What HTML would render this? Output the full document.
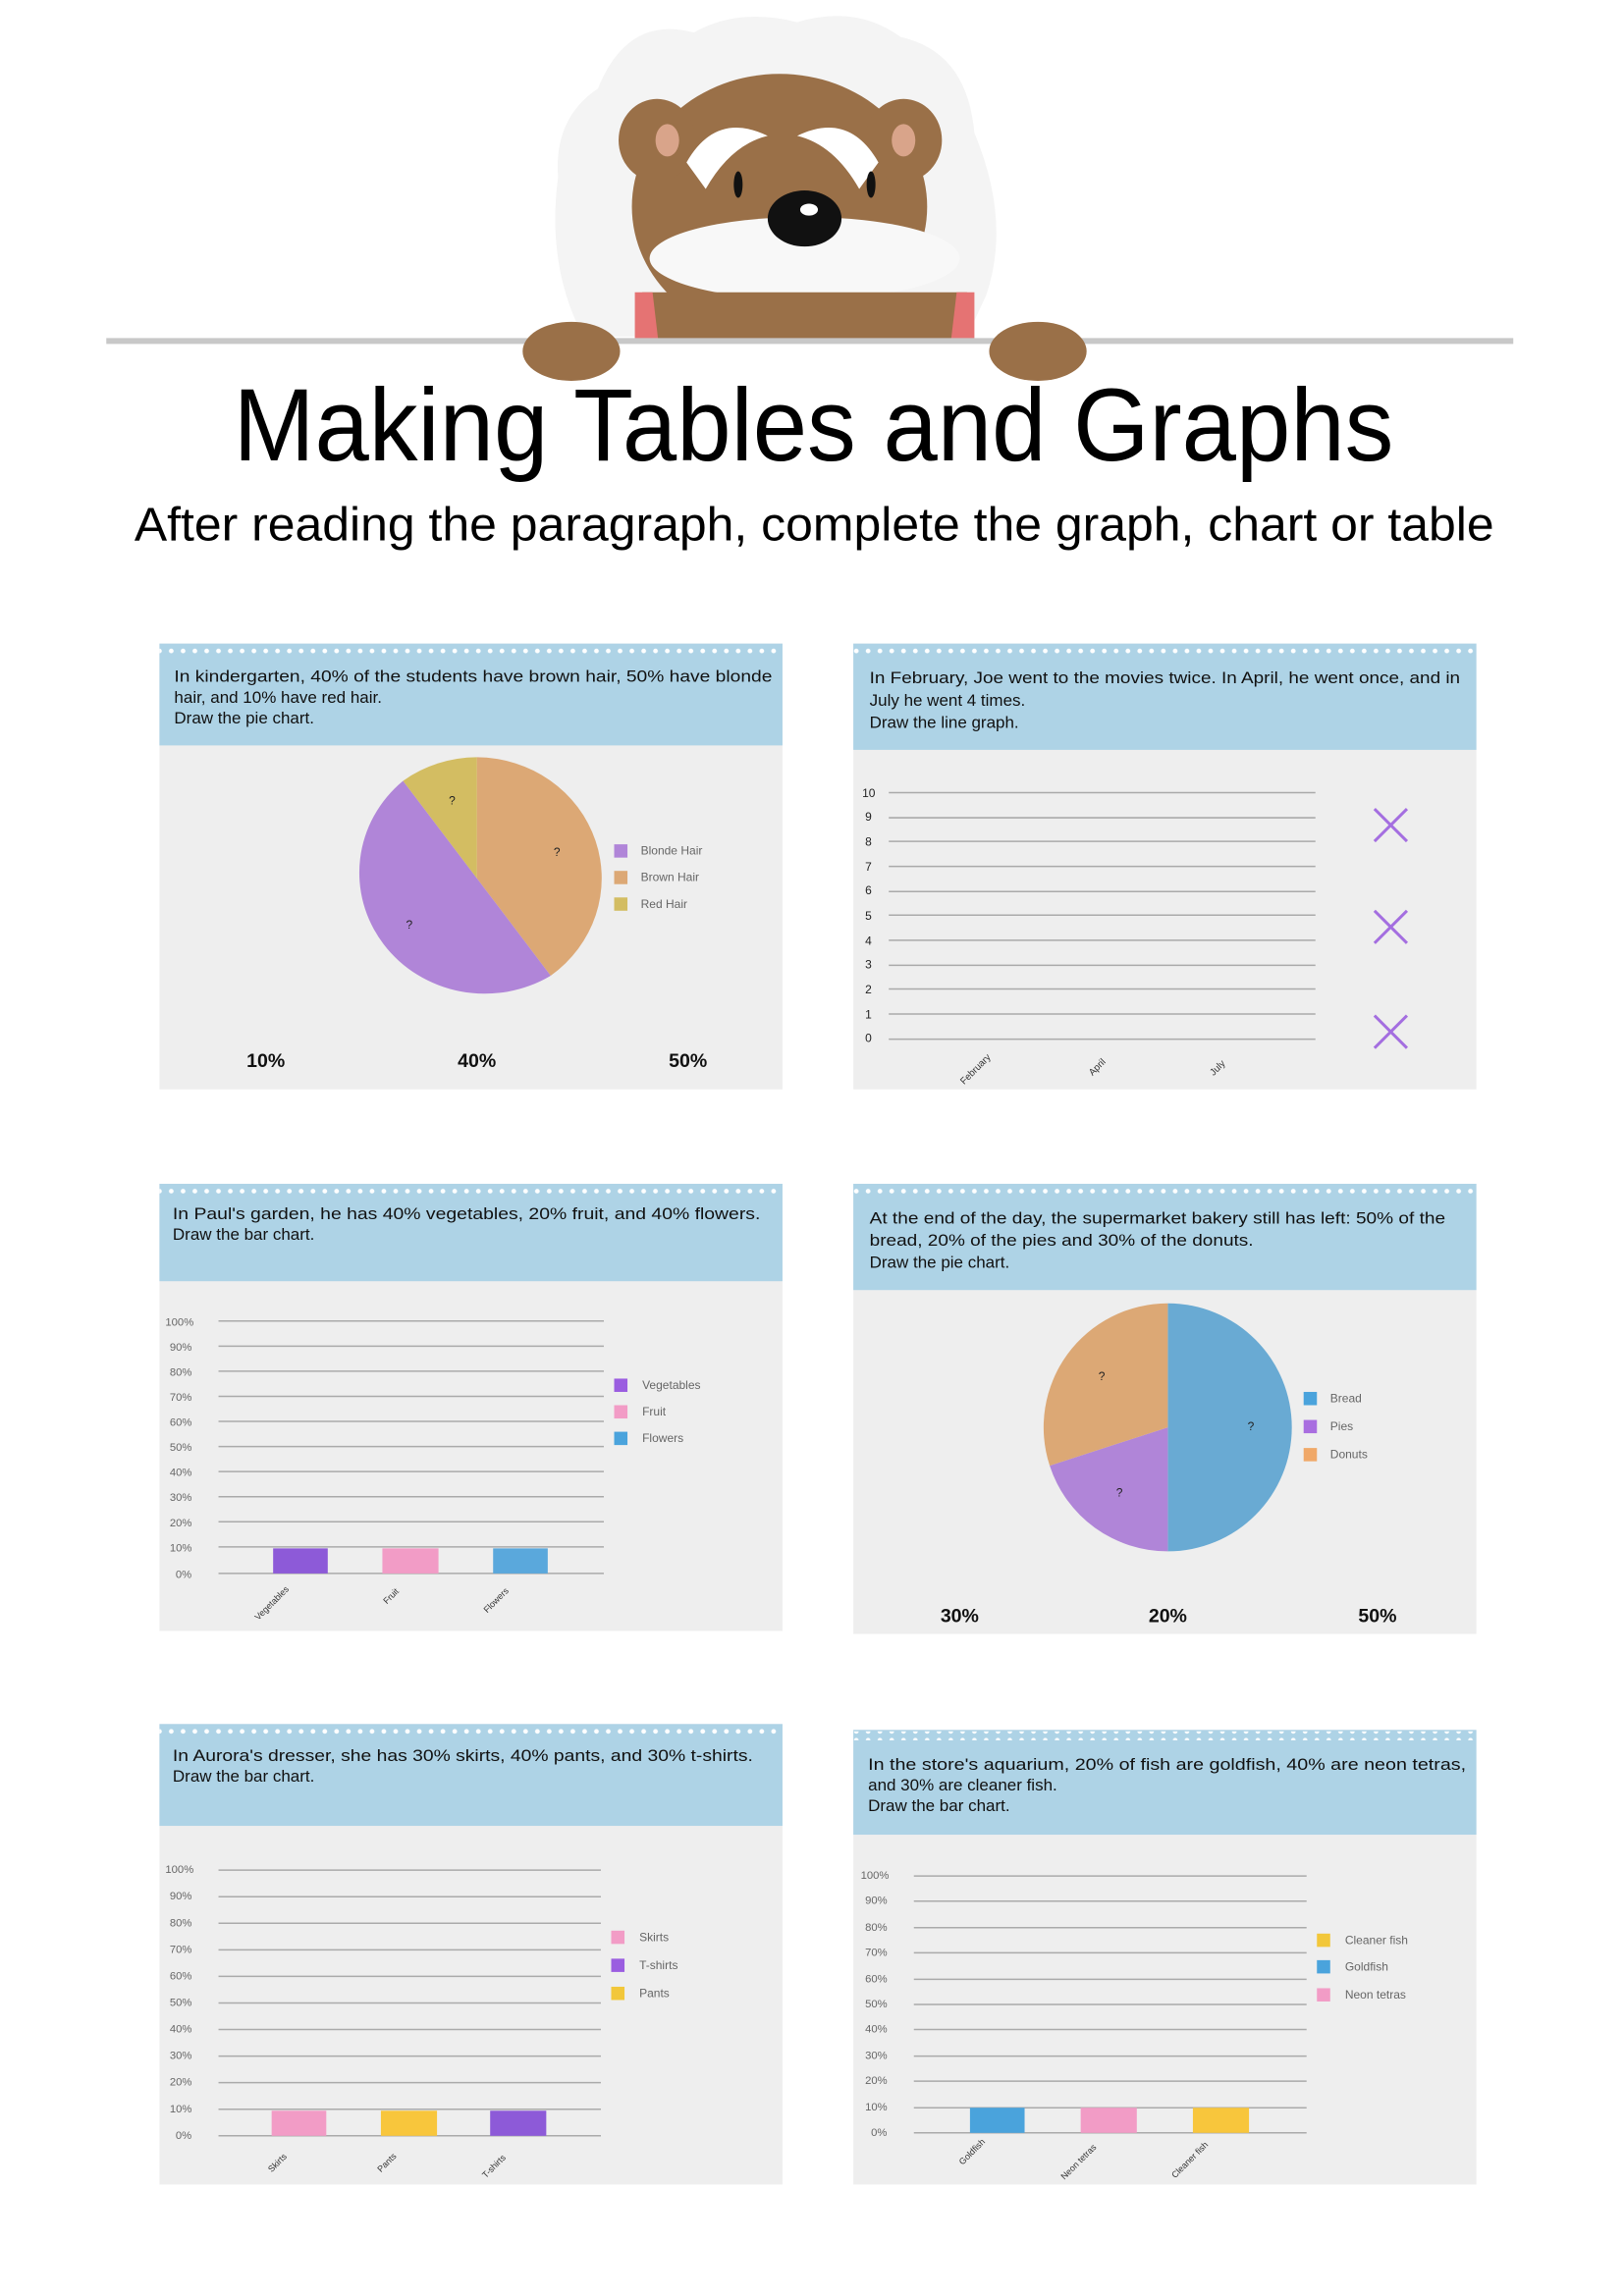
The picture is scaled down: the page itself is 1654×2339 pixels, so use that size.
<!DOCTYPE html>
<html><head><meta charset="utf-8"><style>
html,body{margin:0;padding:0;background:#fff}
svg{display:block}
text{font-family:"Liberation Sans",sans-serif}
</style></head><body>
<svg width="1654" height="2339" viewBox="0 0 1100 1555.5" xmlns="http://www.w3.org/2000/svg">
<defs>
<pattern id="dots" width="8" height="6" patternUnits="userSpaceOnUse"><circle cx="4" cy="3" r="1.6" fill="#fff"/></pattern>
</defs>
<!-- bear -->
<g>
<path d="M405,60 Q425,10 470,22 Q500,5 540,15 Q580,3 610,25 Q655,35 660,90 Q685,150 668,200 L655,228 L395,228 Q370,180 378,120 Q375,80 405,60Z" fill="#f4f4f4"/>
<ellipse cx="528" cy="140" rx="100" ry="90" fill="#9a7048"/>
<ellipse cx="445" cy="95" rx="26" ry="28" fill="#9a7048"/>
<ellipse cx="612" cy="95" rx="26" ry="28" fill="#9a7048"/>
<ellipse cx="452" cy="95" rx="8" ry="11" fill="#d9a48a"/>
<ellipse cx="612" cy="95" rx="8" ry="11" fill="#d9a48a"/>
<path d="M465,110 Q485,75 520,92 Q495,98 478,128Z" fill="#fff"/>
<path d="M595,110 Q575,75 540,92 Q565,98 582,128Z" fill="#fff"/>
<ellipse cx="500" cy="125" rx="3" ry="9" fill="#111"/>
<ellipse cx="590" cy="125" rx="3" ry="9" fill="#111"/>
<ellipse cx="545" cy="175" rx="105" ry="28" fill="#f8f8f8"/>
<ellipse cx="545" cy="148" rx="25" ry="19" fill="#111"/>
<ellipse cx="548" cy="142" rx="6" ry="4" fill="#fff"/>
<rect x="435" y="198" width="220" height="34" fill="#9a7048"/>
<path d="M430,198 L442,198 L446,232 L430,232Z" fill="#e57373"/>
<path d="M660,198 L648,198 L644,232 L660,232Z" fill="#e57373"/>
</g>
<rect x="72" y="229" width="953" height="4" fill="#c8c8c8"/>
<ellipse cx="387" cy="238" rx="33" ry="20" fill="#9a7048"/>
<ellipse cx="703" cy="238" rx="33" ry="20" fill="#9a7048"/>
<text x="158" y="312" font-size="70" textLength="786" lengthAdjust="spacingAndGlyphs" fill="#000">Making Tables and Graphs</text>
<text x="91" y="366" font-size="32" textLength="921" lengthAdjust="spacingAndGlyphs" fill="#000">After reading the paragraph, complete the graph, chart or table</text>

<!-- Panel 1 -->
<rect x="108" y="436" width="422" height="302" fill="#eeeeee"/>
<rect x="108" y="436" width="422" height="69" fill="#aed3e6"/>
<rect x="108" y="437" width="422" height="6" fill="url(#dots)"/>
<g font-size="11.3" fill="#111"><text x="118" y="462" textLength="405" lengthAdjust="spacingAndGlyphs">In kindergarten, 40% of the students have brown hair, 50% have blonde</text><text x="118" y="476">hair, and 10% have red hair.</text><text x="118" y="490">Draw the pie chart.</text></g>
<path d="M323,595 L323,513 A85,82 0 0 1 373,661 Z" fill="#dca875"/>
<path d="M323,595 L373,661 A85,82 0 0 1 273,529 Z" fill="#b085d8"/>
<path d="M323,595 L273,529 A85,82 0 0 1 323,513 Z" fill="#d3bd62"/>
<g font-size="8" fill="#222"><text x="304" y="545">?</text><text x="375" y="580">?</text><text x="275" y="629">?</text></g>
<rect x="416" y="572" width="9" height="9" fill="#b085d8"/><rect x="416" y="590" width="9" height="9" fill="#dca875"/><rect x="416" y="608" width="9" height="9" fill="#d3bd62"/>
<g font-size="8" fill="#666"><text x="434" y="579">Blonde Hair</text><text x="434" y="597">Brown Hair</text><text x="434" y="615">Red Hair</text></g>
<g font-size="13" font-weight="bold" fill="#111" text-anchor="middle"><text x="180" y="723">10%</text><text x="323" y="723">40%</text><text x="466" y="723">50%</text></g>

<!-- Panel 2 -->
<rect x="578" y="436" width="422" height="302" fill="#eeeeee"/>
<rect x="578" y="436" width="422" height="72" fill="#aed3e6"/>
<rect x="578" y="437" width="422" height="6" fill="url(#dots)"/>
<g font-size="11.3" fill="#111"><text x="589" y="463" textLength="400" lengthAdjust="spacingAndGlyphs">In February, Joe went to the movies twice. In April, he went once, and in</text><text x="589" y="478">July he went 4 times.</text><text x="589" y="493">Draw the line graph.</text></g>
<g stroke="#aaa" stroke-width="1">
<line x1="602" y1="537" x2="891" y2="537"/><line x1="602" y1="554" x2="891" y2="554"/><line x1="602" y1="570" x2="891" y2="570"/><line x1="602" y1="587" x2="891" y2="587"/><line x1="602" y1="604" x2="891" y2="604"/><line x1="602" y1="620" x2="891" y2="620"/><line x1="602" y1="637" x2="891" y2="637"/><line x1="602" y1="654" x2="891" y2="654"/><line x1="602" y1="670" x2="891" y2="670"/><line x1="602" y1="687" x2="891" y2="687"/><line x1="602" y1="704" x2="891" y2="704"/></g>
<g font-size="8" fill="#222"><text x="584" y="540">10</text><text x="586" y="556">9</text><text x="586" y="573">8</text><text x="586" y="590">7</text><text x="586" y="606">6</text><text x="586" y="623">5</text><text x="586" y="640">4</text><text x="586" y="656">3</text><text x="586" y="673">2</text><text x="586" y="690">1</text><text x="586" y="706">0</text></g>
<g font-size="6.5" fill="#333"><text transform="translate(653,735) rotate(-45)">February</text><text transform="translate(740,729) rotate(-45)">April</text><text transform="translate(822,729) rotate(-45)">July</text></g>
<g stroke="#a46ee0" stroke-width="2"><path d="M931,548 L953,570 M953,548 L931,570"/><path d="M931,617 L953,639 M953,617 L931,639"/><path d="M931,688 L953,710 M953,688 L931,710"/></g>

<!-- Panel 3 -->
<rect x="108" y="802" width="422" height="303" fill="#eeeeee"/>
<rect x="108" y="802" width="422" height="66" fill="#aed3e6"/>
<rect x="108" y="803" width="422" height="6" fill="url(#dots)"/>
<g font-size="11.3" fill="#111"><text x="117" y="826" textLength="398" lengthAdjust="spacingAndGlyphs">In Paul's garden, he has 40% vegetables, 20% fruit, and 40% flowers.</text><text x="117" y="840">Draw the bar chart.</text></g>
<g stroke="#aaa"><line x1="148" y1="895" x2="409" y2="895"/><line x1="148" y1="912" x2="409" y2="912"/><line x1="148" y1="929" x2="409" y2="929"/><line x1="148" y1="946" x2="409" y2="946"/><line x1="148" y1="963" x2="409" y2="963"/><line x1="148" y1="980" x2="409" y2="980"/><line x1="148" y1="997" x2="409" y2="997"/><line x1="148" y1="1014" x2="409" y2="1014"/><line x1="148" y1="1031" x2="409" y2="1031"/><line x1="148" y1="1048" x2="409" y2="1048"/><line x1="148" y1="1066" x2="409" y2="1066"/></g>
<g font-size="7.5" fill="#666"><text x="112" y="898">100%</text><text x="115" y="915">90%</text><text x="115" y="932">80%</text><text x="115" y="949">70%</text><text x="115" y="966">60%</text><text x="115" y="983">50%</text><text x="115" y="1000">40%</text><text x="115" y="1017">30%</text><text x="115" y="1034">20%</text><text x="115" y="1051">10%</text><text x="119" y="1069">0%</text></g>
<rect x="185" y="1049" width="37" height="17" fill="#8d5ad8"/><rect x="259" y="1049" width="38" height="17" fill="#f29cc6"/><rect x="334" y="1049" width="37" height="17" fill="#5aa8dc"/>
<g font-size="6" fill="#333"><text transform="translate(175,1098) rotate(-45)">Vegetables</text><text transform="translate(262,1087) rotate(-45)">Fruit</text><text transform="translate(330,1093) rotate(-45)">Flowers</text></g>
<rect x="416" y="934" width="9" height="9" fill="#9a5de0"/><rect x="416" y="952" width="9" height="9" fill="#f29cc6"/><rect x="416" y="970" width="9" height="9" fill="#4aa3dc"/>
<g font-size="8" fill="#666"><text x="435" y="941">Vegetables</text><text x="435" y="959">Fruit</text><text x="435" y="977">Flowers</text></g>

<!-- Panel 4 -->
<rect x="578" y="802" width="422" height="305" fill="#eeeeee"/>
<rect x="578" y="802" width="422" height="72" fill="#aed3e6"/>
<rect x="578" y="803" width="422" height="6" fill="url(#dots)"/>
<g font-size="11.3" fill="#111"><text x="589" y="829" textLength="390" lengthAdjust="spacingAndGlyphs">At the end of the day, the supermarket bakery still has left: 50% of the</text><text x="589" y="844" textLength="260" lengthAdjust="spacingAndGlyphs">bread, 20% of the pies and 30% of the donuts.</text><text x="589" y="859">Draw the pie chart.</text></g>
<path d="M791,967 L791,883 A84,84 0 0 1 791,1051 Z" fill="#69aad3"/>
<path d="M791,967 L791,1051 A84,84 0 0 1 711,993 Z" fill="#b085d8"/>
<path d="M791,967 L711,993 A84,84 0 0 1 791,883 Z" fill="#dca875"/>
<g font-size="8" fill="#222"><text x="744" y="935">?</text><text x="845" y="969">?</text><text x="756" y="1014">?</text></g>
<rect x="883" y="943" width="9" height="9" fill="#4aa3dc"/><rect x="883" y="962" width="9" height="9" fill="#a96ee0"/><rect x="883" y="981" width="9" height="9" fill="#f0a868"/>
<g font-size="8" fill="#666"><text x="901" y="950">Bread</text><text x="901" y="969">Pies</text><text x="901" y="988">Donuts</text></g>
<g font-size="13" font-weight="bold" fill="#111" text-anchor="middle"><text x="650" y="1099">30%</text><text x="791" y="1099">20%</text><text x="933" y="1099">50%</text></g>

<!-- Panel 5 -->
<rect x="108" y="1168" width="422" height="312" fill="#eeeeee"/>
<rect x="108" y="1168" width="422" height="69" fill="#aed3e6"/>
<rect x="108" y="1169" width="422" height="6" fill="url(#dots)"/>
<g font-size="11.3" fill="#111"><text x="117" y="1193" textLength="393" lengthAdjust="spacingAndGlyphs">In Aurora's dresser, she has 30% skirts, 40% pants, and 30% t-shirts.</text><text x="117" y="1207">Draw the bar chart.</text></g>
<g stroke="#aaa"><line x1="148" y1="1267" x2="407" y2="1267"/><line x1="148" y1="1285" x2="407" y2="1285"/><line x1="148" y1="1303" x2="407" y2="1303"/><line x1="148" y1="1321" x2="407" y2="1321"/><line x1="148" y1="1339" x2="407" y2="1339"/><line x1="148" y1="1357" x2="407" y2="1357"/><line x1="148" y1="1375" x2="407" y2="1375"/><line x1="148" y1="1393" x2="407" y2="1393"/><line x1="148" y1="1411" x2="407" y2="1411"/><line x1="148" y1="1429" x2="407" y2="1429"/><line x1="148" y1="1447" x2="407" y2="1447"/></g>
<g font-size="7.5" fill="#666"><text x="112" y="1269">100%</text><text x="115" y="1287">90%</text><text x="115" y="1305">80%</text><text x="115" y="1323">70%</text><text x="115" y="1341">60%</text><text x="115" y="1359">50%</text><text x="115" y="1377">40%</text><text x="115" y="1395">30%</text><text x="115" y="1413">20%</text><text x="115" y="1431">10%</text><text x="119" y="1449">0%</text></g>
<rect x="184" y="1430" width="37" height="17" fill="#f29cc6"/><rect x="258" y="1430" width="38" height="17" fill="#f8c63c"/><rect x="332" y="1430" width="38" height="17" fill="#8d5ad8"/>
<g font-size="6" fill="#333"><text transform="translate(184,1472) rotate(-45)">Skirts</text><text transform="translate(258,1472) rotate(-45)">Pants</text><text transform="translate(329,1476) rotate(-45)">T-shirts</text></g>
<rect x="414" y="1308" width="9" height="9" fill="#f29cc6"/><rect x="414" y="1327" width="9" height="9" fill="#9a5de0"/><rect x="414" y="1346" width="9" height="9" fill="#f2c73a"/>
<g font-size="8" fill="#666"><text x="433" y="1315">Skirts</text><text x="433" y="1334">T-shirts</text><text x="433" y="1353">Pants</text></g>

<!-- Panel 6 -->
<rect x="578" y="1172" width="422" height="308" fill="#eeeeee"/>
<rect x="578" y="1172" width="422" height="71" fill="#aed3e6"/>
<rect x="578" y="1173" width="422" height="6" fill="url(#dots)"/>
<g font-size="11.3" fill="#111"><text x="588" y="1199" textLength="405" lengthAdjust="spacingAndGlyphs">In the store's aquarium, 20% of fish are goldfish, 40% are neon tetras,</text><text x="588" y="1213">and 30% are cleaner fish.</text><text x="588" y="1227">Draw the bar chart.</text></g>
<g stroke="#aaa"><line x1="619" y1="1271" x2="885" y2="1271"/><line x1="619" y1="1288" x2="885" y2="1288"/><line x1="619" y1="1306" x2="885" y2="1306"/><line x1="619" y1="1323" x2="885" y2="1323"/><line x1="619" y1="1341" x2="885" y2="1341"/><line x1="619" y1="1358" x2="885" y2="1358"/><line x1="619" y1="1375" x2="885" y2="1375"/><line x1="619" y1="1393" x2="885" y2="1393"/><line x1="619" y1="1410" x2="885" y2="1410"/><line x1="619" y1="1428" x2="885" y2="1428"/><line x1="619" y1="1445" x2="885" y2="1445"/></g>
<g font-size="7.5" fill="#666"><text x="583" y="1273">100%</text><text x="586" y="1290">90%</text><text x="586" y="1308">80%</text><text x="586" y="1325">70%</text><text x="586" y="1343">60%</text><text x="586" y="1360">50%</text><text x="586" y="1377">40%</text><text x="586" y="1395">30%</text><text x="586" y="1412">20%</text><text x="586" y="1430">10%</text><text x="590" y="1447">0%</text></g>
<rect x="657" y="1428" width="37" height="17" fill="#4aa3dc"/><rect x="732" y="1428" width="38" height="17" fill="#f29cc6"/><rect x="808" y="1428" width="38" height="17" fill="#f8c63c"/>
<g font-size="6" fill="#333"><text transform="translate(652,1467) rotate(-45)">Goldfish</text><text transform="translate(721,1477) rotate(-45)">Neon tetras</text><text transform="translate(796,1476) rotate(-45)">Cleaner fish</text></g>
<rect x="892" y="1310" width="9" height="9" fill="#f2c73a"/><rect x="892" y="1328" width="9" height="9" fill="#4aa3dc"/><rect x="892" y="1347" width="9" height="9" fill="#f29cc6"/>
<g font-size="8" fill="#666"><text x="911" y="1317">Cleaner fish</text><text x="911" y="1335">Goldfish</text><text x="911" y="1354">Neon tetras</text></g>
</svg>
</body></html>
